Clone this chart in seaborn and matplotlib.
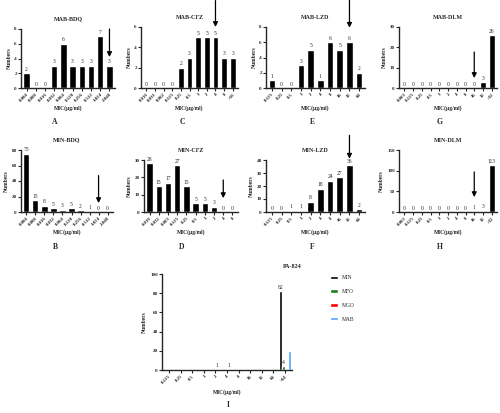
import numpy as np
import pandas as pd
import matplotlib
matplotlib.use("Agg")
import matplotlib.pyplot as plt
import seaborn as sns

sns.set_style("ticks")
plt.rcParams['font.family'] = ['Liberation Serif', 'DejaVu Serif']

# data
bdq_mic = ["0.004", "0.008", "0.016", "0.032", "0.064", "0.128", "0.256", "0.512", "1.024", "2.048"]
mab_bdq = [2, 0, 0, 3, 6, 3, 3, 3, 7, 3]
min_bdq = [75, 15, 8, 5, 3, 5, 2, 1, 0, 0]

mab_cfz_mic = ["0.016", "0.031", "0.062", "0.125", "0.25", "0.5", "1", "2", "4", "8", ">16"]
mab_cfz = [0, 0, 0, 0, 2, 3, 5, 5, 5, 3, 3]
min_cfz_mic = ["0.016", "0.032", "0.063", "0.125", "0.25", "0.5", "1", "2", "4", "8"]
min_cfz = [28, 15, 17, 27, 15, 5, 5, 3, 0, 0]

lzd_mic = ["0.125", "0.25", "0.5", "1", "2", "4", "8", "16", "32", "64"]
mab_lzd = [1, 0, 0, 3, 5, 1, 6, 5, 6, 2]
min_lzd = [0, 0, 1, 1, 8, 18, 24, 27, 36, 2]

dlm_mic = ["0.063", "0.125", "0.25", "0.5", "1", "2", "4", "8", "16", "32", ">32"]
mab_dlm = [0, 0, 0, 0, 0, 0, 0, 0, 0, 3, 26]
min_dlm = [0, 0, 0, 0, 0, 0, 0, 0, 1, 3, 113]

pa_mic = ["0.125", "0.25", "0.5", "1", "2", "4", "8", "16", "32", "64", ">64"]
pa_groups = ["MIN", "MFO", "MGO", "MAB"]
pa_min = [0, 0, 0, 0, 0, 0, 0, 0, 0, 0, 82]
pa_mfo = [0, 0, 0, 0, 0, 0, 0, 0, 0, 0, 4]
pa_mgo = [0, 0, 0, 0, 1, 1, 0, 0, 0, 0, 0]
pa_mab = [0, 0, 0, 0, 0, 0, 0, 0, 0, 0, 20]
pa_colors = ["#000000", "#1a7f1a", "#ff0000", "#4da3ff"]

W, H = 500, 413
fig = plt.figure(figsize=(5, 4.13), dpi=100)


def box(x0, x1, ytop, ybot):
    return [x0 / W, 1 - ybot / H, (x1 - x0) / W, (ybot - ytop) / H]


def style(ax, yticks, title, xlabel_pad=1):
    sns.despine(ax=ax)
    for s in ["left", "bottom"]:
        ax.spines[s].set_linewidth(1.0)
    ax.set_yticks(yticks)
    ax.set_ylim(0, yticks[-1])
    ax.tick_params(axis="both", length=2, width=0.8, pad=1)
    for t in ax.get_yticklabels():
        t.set_fontsize(3.6)
        t.set_fontweight("bold")
    for t in ax.get_xticklabels():
        t.set_fontsize(3.5)
        t.set_fontweight("bold")
        t.set_rotation(45)
        t.set_ha("right")
        t.set_rotation_mode("anchor")
    ax.set_ylabel("Numbers", fontsize=4, fontweight="bold", labelpad=2)
    ax.set_xlabel("MIC(μg/ml)", fontsize=4, fontweight="bold", labelpad=xlabel_pad)
    ax.set_title(title, fontsize=4.3, fontweight="bold", pad=6)


def panel(rect, mic, vals, title, yticks, arrow_i, arrow_from, arrow_to):
    ax = fig.add_axes(rect)
    sns.barplot(x=mic, y=vals, color="black", width=0.68, ax=ax, saturation=1)
    ax.bar_label(ax.containers[0], fontsize=4, padding=1)
    ax.set_xlim(-0.6, len(mic) - 0.4)
    style(ax, yticks, title, xlabel_pad=2)
    ax.annotate("", xy=(arrow_i, arrow_to), xytext=(arrow_i, arrow_from),
                arrowprops=dict(arrowstyle="-|>", color="black", lw=0.9,
                                mutation_scale=7, shrinkA=0, shrinkB=0),
                annotation_clip=False)
    return ax


panel(box(21, 115, 29, 88), bdq_mic, mab_bdq, "MAB-BDQ", [0, 2, 4, 6, 8], 9, 8, 4.2)
panel(box(141, 238, 27, 88), mab_cfz_mic, mab_cfz, "MAB-CFZ", [0, 2, 4, 6], 8, 8.6, 6.0)
panel(box(266, 365, 27, 88), lzd_mic, mab_lzd, "MAB-LZD", [0, 2, 4, 6, 8], 8, 11.5, 7.9)
panel(box(399, 497, 27, 88), dlm_mic, mab_dlm, "MAB-DLM", [0, 10, 20, 30], 8, 17.7, 4.9)

panel(box(21, 113, 150, 212), bdq_mic, min_bdq, "MIN-BDQ", [0, 20, 40, 60, 80], 8, 47, 11.5)
panel(box(144, 238, 160, 212), min_cfz_mic, min_cfz, "MIN-CFZ", [0, 10, 20, 30], 8, 18.5, 8)
panel(box(266, 365, 160, 212), lzd_mic, min_lzd, "MIN-LZD", [0, 10, 20, 30, 40], 8, 59, 41)
panel(box(399, 497, 150, 212), dlm_mic, min_dlm, "MIN-DLM", [0, 50, 100, 150], 8, 97, 36)

# panel I
df = pd.DataFrame({
    "mic": pa_mic * 4,
    "group": np.repeat(pa_groups, len(pa_mic)),
    "n": pa_min + pa_mfo + pa_mgo + pa_mab,
})
ax = fig.add_axes(box(162, 292, 274, 370))
sns.barplot(data=df, x="mic", y="n", hue="group", order=pa_mic, hue_order=pa_groups,
            palette=pa_colors, width=1.0, saturation=1, ax=ax)
label_sets = {"MIN": "black", "MFO": "#1a7f1a", "MGO": "#aa0000"}
for cont, g in zip(ax.containers, pa_groups):
    if g in label_sets:
        labs = [str(int(v)) if v > 0 else "" for v in cont.datavalues]
        ax.bar_label(cont, labels=labs, fontsize=4, padding=1)
ax.set_xlim(-0.6, len(pa_mic) - 0.4)
style(ax, [0, 20, 40, 60, 80, 100], "", xlabel_pad=3)
ax.set_title("PA-824", fontsize=4.3, fontweight="bold", x=1.0, pad=4)
leg = ax.legend(loc="upper left", bbox_to_anchor=(1.25, 1.04), frameon=False, fontsize=4,
                handlelength=1.5, handleheight=0.5, labelspacing=1.6)

# panel letters
for lx, ly, s in [(55, 122, "A"), (182, 122, "C"), (312, 122, "E"), (440, 122, "G"),
                  (55, 247, "B"), (182, 247, "D"), (312, 247, "F"), (440, 247, "H"),
                  (228, 405, "I")]:
    fig.text(lx / W, 1 - ly / H, s, fontsize=5.5, fontweight="bold", ha="center", va="center")

fig.savefig("out.png", dpi=100)
